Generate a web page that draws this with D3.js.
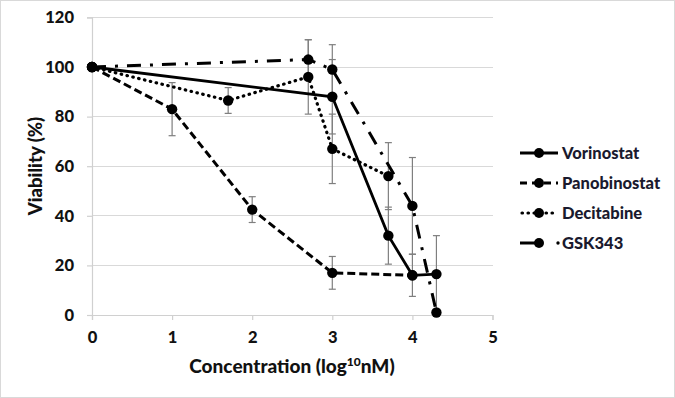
<!DOCTYPE html>
<html><head><meta charset="utf-8">
<script src="https://cdn.jsdelivr.net/npm/d3@7"></script>
<style>html,body{margin:0;padding:0;background:#fff;}svg{display:block;}</style>
</head><body>
<svg id="chart" width="675" height="398"></svg>
<script>
const seriesNames = ["Vorinostat", "Panobinostat", "Decitabine", "GSK343"];
const vorinostatX = [0, 3, 3.7, 4, 4.3];
const vorinostatY = [100, 88, 32, 16, 16.5];
const vorinostatErr = [0, 15, 11.5, 8.5, 15.5];
const panobinostatX = [0, 1, 2, 3, 4];
const panobinostatY = [100, 83, 42.5, 17, 16];
const panobinostatErr = [0, 10.7, 5.2, 6.6, 0];
const decitabineX = [0, 1.7, 2.7, 3, 3.7];
const decitabineY = [100, 86.5, 96, 67, 56];
const decitabineErr = [0, 5.2, 15, 14, 13.5];
const gskX = [0, 2.7, 3, 4, 4.3];
const gskY = [100, 103, 99, 44, 1];
const gskErr = [0, 8, 10, 19.5, 0];
const xTicks = [0, 1, 2, 3, 4, 5];
const yTicks = [0, 20, 40, 60, 80, 100, 120];

const series = [
  {name: seriesNames[0], x: vorinostatX, y: vorinostatY, e: vorinostatErr, dash: null, cap: "butt", w: 2.8},
  {name: seriesNames[1], x: panobinostatX, y: panobinostatY, e: panobinostatErr, dash: "8,4", cap: "butt", w: 3},
  {name: seriesNames[2], x: decitabineX, y: decitabineY, e: decitabineErr, dash: "0.5,5.5", cap: "round", w: 3.2},
  {name: seriesNames[3], x: gskX, y: gskY, e: gskErr, dash: "14,9,3,9", cap: "butt", w: 3}
];

const svg = d3.select("#chart");
const font = "Lato, 'Open Sans', sans-serif";
const textColor = "#111";
const weight = 900;

svg.append("rect").attr("x", 0.5).attr("y", 0.5).attr("width", 674).attr("height", 397)
  .attr("fill", "#fff").attr("stroke", "#d9d9d9");

const x = d3.scaleLinear().domain([0, 5]).range([92, 492.5]);
const y = d3.scaleLinear().domain([0, 120]).range([315, 17.4]);

// gridlines
svg.append("g").selectAll("line").data(yTicks.filter(d => d > 0)).join("line")
  .attr("x1", x(0)).attr("x2", x(5)).attr("y1", d => y(d)).attr("y2", d => y(d))
  .attr("stroke", "#d9d9d9").attr("stroke-width", 1).attr("shape-rendering", "crispEdges");

// axes
const xAxis = svg.append("g").attr("transform", `translate(0,${y(0)})`)
  .call(d3.axisBottom(x).tickValues(xTicks).tickSize(5).tickPadding(11).tickFormat(d3.format("d")));
const yAxis = svg.append("g").attr("transform", `translate(${x(0)},0)`)
  .call(d3.axisLeft(y).tickValues(yTicks).tickSize(5).tickPadding(13).tickFormat(d3.format("d")));
[xAxis, yAxis].forEach(g => {
  g.select(".domain").attr("stroke", "#d0d0d0").attr("stroke-width", 1.2);
  g.selectAll(".tick line").attr("stroke", "#d0d0d0").attr("stroke-width", 1.2);
  g.selectAll(".tick text").attr("font-family", font).attr("font-weight", weight)
    .attr("font-size", 16.5).attr("fill", textColor);
});

// axis titles
const xt = svg.append("text").attr("x", 292).attr("y", 373).attr("text-anchor", "middle")
  .attr("font-family", font).attr("font-weight", weight).attr("font-size", 19).attr("fill", textColor);
xt.append("tspan").text("Concentration (log");
xt.append("tspan").attr("font-size", 12).attr("dy", -7).text("10");
xt.append("tspan").attr("dy", 7).text("nM)");

svg.append("text").attr("transform", "translate(42,166) rotate(-90)").attr("text-anchor", "middle")
  .attr("font-family", font).attr("font-weight", weight).attr("font-size", 18.5).attr("fill", textColor)
  .text("Viability (%)");

// error bars
const eb = svg.append("g").attr("stroke", "#7f7f7f").attr("stroke-width", 1.2);
series.forEach(s => {
  s.x.forEach((xv, i) => {
    const e = s.e[i];
    if (!e) return;
    const lo = Math.max(0, s.y[i] - e), hi = s.y[i] + e;
    eb.append("line").attr("x1", x(xv)).attr("x2", x(xv)).attr("y1", y(lo)).attr("y2", y(hi));
    [lo, hi].forEach(v => {
      if (v <= 0) return;
      eb.append("line").attr("x1", x(xv) - 3.5).attr("x2", x(xv) + 3.5).attr("y1", y(v)).attr("y2", y(v));
    });
  });
});

// lines and markers
const line = d3.line().x(d => x(d[0])).y(d => y(d[1]));
series.forEach(s => {
  const pts = s.x.map((xv, i) => [xv, s.y[i]]);
  svg.append("path").datum(pts).attr("d", line).attr("fill", "none").attr("stroke", "#000")
    .attr("stroke-width", s.w).attr("stroke-dasharray", s.dash).attr("stroke-linecap", s.cap);
  svg.append("g").selectAll("circle").data(pts).join("circle")
    .attr("cx", d => x(d[0])).attr("cy", d => y(d[1])).attr("r", 5.2).attr("fill", "#000");
});

// legend
const legY = [153, 183, 213, 243];
series.forEach((s, i) => {
  const g = svg.append("g");
  if (i === 3) {
    g.append("line").attr("x1", 520).attr("x2", 538).attr("y1", legY[i]).attr("y2", legY[i])
      .attr("stroke", "#000").attr("stroke-width", 3);
    g.append("circle").attr("cx", 558).attr("cy", legY[i]).attr("r", 1.7).attr("fill", "#000");
  } else {
    g.append("line").attr("x1", 520).attr("x2", 558).attr("y1", legY[i]).attr("y2", legY[i])
      .attr("stroke", "#000").attr("stroke-width", s.w).attr("stroke-dasharray", i === 1 ? "7,5" : (i === 2 ? "0.5,5.5" : null))
      .attr("stroke-dashoffset", i === 2 ? -2 : 0)
      .attr("stroke-linecap", s.cap);
  }
  g.append("circle").attr("cx", 539).attr("cy", legY[i]).attr("r", 5).attr("fill", "#000");
  g.append("text").attr("x", 562).attr("y", legY[i] + 5.5).attr("font-family", font)
    .attr("font-weight", weight).attr("font-size", 16.5).attr("fill", "#1a1a2e").text(s.name);
});
</script>
</body></html>
